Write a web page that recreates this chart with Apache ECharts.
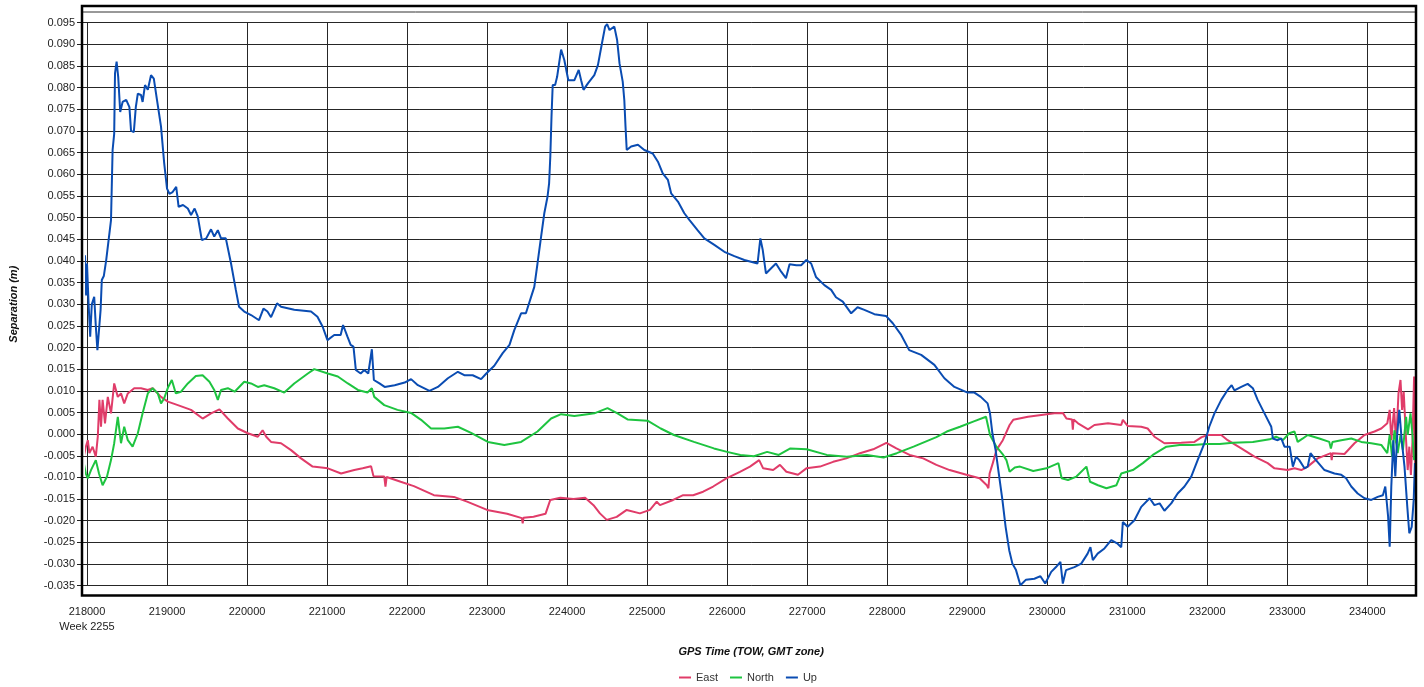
<!DOCTYPE html>
<html>
<head>
<meta charset="utf-8">
<title>GPS Separation</title>
<script src="https://cdn.jsdelivr.net/npm/echarts@6/dist/echarts.min.js"></script>
<style>
  html, body { margin: 0; padding: 0; background: #fff; }
  #chart { width: 1424px; height: 687px; }
</style>
</head>
<body>
<div id="chart"></div>
<script>
// Separation components (metres) against GPS time of week, week 2255.
const weekLabel = 'Week 2255';
const seriesNames = ['East', 'North', 'Up'];
const seriesColors = ['#e03c69', '#1ec440', '#0a4cb2'];

const east = [
  [217960, -0.0052], [217985, -0.0029], [218010, -0.0014], [218030, -0.0044], [218070, -0.0029],
  [218110, -0.0052], [218135, -0.0006], [218155, 0.0079], [218175, 0.0017], [218195, 0.0079],
  [218225, 0.0025], [218260, 0.0086], [218300, 0.0048], [218340, 0.0117], [218360, 0.0121],
  [218385, 0.0086], [218425, 0.0094], [218465, 0.0071], [218510, 0.0094], [218590, 0.0106],
  [218675, 0.0106], [218760, 0.0102], [218820, 0.0106], [218925, 0.0086], [219010, 0.0075],
  [219135, 0.0067], [219300, 0.0056], [219445, 0.0036], [219550, 0.0048], [219655, 0.0057],
  [219760, 0.0036], [219885, 0.0013], [220010, 0.0002], [220135, -0.0006], [220195, 0.0009],
  [220240, -0.0006], [220300, -0.0018], [220425, -0.0021], [220550, -0.0037], [220675, -0.0056],
  [220820, -0.0075], [221010, -0.0079], [221175, -0.0091], [221340, -0.0083], [221445, -0.0079],
  [221550, -0.0074], [221580, -0.0097], [221715, -0.0098], [221730, -0.0121], [221745, -0.0099],
  [221920, -0.0110], [222085, -0.0120], [222335, -0.0141], [222585, -0.0145], [222750, -0.0156],
  [223000, -0.0175], [223250, -0.0184], [223435, -0.0194], [223445, -0.0206], [223455, -0.0193],
  [223580, -0.0191], [223730, -0.0184], [223790, -0.0152], [223915, -0.0147], [224080, -0.0150],
  [224225, -0.0147], [224330, -0.0164], [224410, -0.0183], [224495, -0.0198], [224620, -0.0191],
  [224745, -0.0175], [224910, -0.0183], [225035, -0.0175], [225120, -0.0156], [225160, -0.0164],
  [225325, -0.0152], [225450, -0.0141], [225575, -0.0141], [225700, -0.0133], [225825, -0.0121],
  [225990, -0.0102], [226160, -0.0087], [226285, -0.0075], [226400, -0.0060], [226450, -0.0079],
  [226575, -0.0083], [226660, -0.0071], [226740, -0.0087], [226825, -0.0091], [226885, -0.0094],
  [226990, -0.0079], [227160, -0.0075], [227325, -0.0064], [227490, -0.0056], [227660, -0.0044],
  [227825, -0.0035], [227990, -0.0020], [228115, -0.0033], [228280, -0.0048], [228450, -0.0056],
  [228615, -0.0071], [228780, -0.0083], [228990, -0.0094], [229155, -0.0102], [229245, -0.0118],
  [229265, -0.0125], [229280, -0.0091], [229320, -0.0067], [229365, -0.0037], [229445, -0.0014],
  [229530, 0.0021], [229575, 0.0033], [229760, 0.0040], [229925, 0.0044], [230090, 0.0048],
  [230195, 0.0049], [230240, 0.0036], [230310, 0.0034], [230320, 0.0010], [230330, 0.0034],
  [230385, 0.0025], [230510, 0.0011], [230590, 0.0021], [230760, 0.0025], [230925, 0.0021],
  [230945, 0.0033], [231005, 0.0019], [231175, 0.0017], [231255, 0.0013], [231340, -0.0006],
  [231465, -0.0021], [231675, -0.0020], [231840, -0.0018], [231930, -0.0007], [232010, -0.0002],
  [232175, -0.0002], [232255, -0.0014], [232425, -0.0033], [232590, -0.0052], [232755, -0.0067],
  [232840, -0.0079], [233005, -0.0083], [233090, -0.0079], [233175, -0.0083], [233255, -0.0075],
  [233380, -0.0056], [233545, -0.0044], [233555, -0.0060], [233565, -0.0044], [233715, -0.0046],
  [233840, -0.0021], [233965, -0.0002], [234090, 0.0006], [234175, 0.0013], [234250, 0.0025],
  [234280, 0.0056], [234300, -0.0014], [234335, 0.0060], [234360, -0.0021], [234390, 0.0094],
  [234415, 0.0125], [234435, 0.0056], [234455, 0.0098], [234485, -0.0014], [234505, -0.0083],
  [234525, -0.0029], [234545, -0.0094], [234565, -0.0014], [234585, 0.0133], [234600, -0.0075]
];

const north = [
  [217960, -0.0067], [217985, -0.0091], [218010, -0.0102], [218050, -0.0083], [218110, -0.0060],
  [218150, -0.0091], [218195, -0.0118], [218250, -0.0098], [218300, -0.0060], [218340, -0.0021],
  [218385, 0.0040], [218425, -0.0021], [218465, 0.0017], [218510, -0.0014], [218570, -0.0029],
  [218635, 0.0002], [218695, 0.0048], [218760, 0.0094], [218820, 0.0106], [218885, 0.0094],
  [218925, 0.0071], [218965, 0.0083], [219015, 0.0109], [219060, 0.0125], [219110, 0.0094],
  [219175, 0.0098], [219260, 0.0117], [219360, 0.0134], [219445, 0.0136], [219530, 0.0121],
  [219590, 0.0102], [219635, 0.0079], [219675, 0.0102], [219760, 0.0106], [219845, 0.0098],
  [219965, 0.0121], [220050, 0.0117], [220135, 0.0109], [220215, 0.0113], [220340, 0.0106],
  [220465, 0.0096], [220590, 0.0117], [220760, 0.0140], [220840, 0.0150], [221010, 0.0140],
  [221135, 0.0133], [221260, 0.0117], [221385, 0.0102], [221505, 0.0096], [221560, 0.0106],
  [221590, 0.0086], [221715, 0.0067], [221880, 0.0056], [222050, 0.0049], [222175, 0.0033],
  [222300, 0.0013], [222465, 0.0013], [222635, 0.0017], [222800, 0.0003], [223010, -0.0018],
  [223215, -0.0025], [223425, -0.0018], [223630, 0.0006], [223800, 0.0036], [223925, 0.0046],
  [224090, 0.0042], [224255, 0.0046], [224340, 0.0048], [224505, 0.0060], [224630, 0.0048],
  [224755, 0.0034], [225005, 0.0031], [225170, 0.0013], [225335, -0.0002], [225585, -0.0018],
  [225835, -0.0033], [226000, -0.0041], [226165, -0.0048], [226335, -0.0051], [226500, -0.0041],
  [226645, -0.0048], [226790, -0.0033], [226995, -0.0035], [227245, -0.0048], [227495, -0.0052],
  [227745, -0.0048], [227955, -0.0054], [228120, -0.0044], [228330, -0.0029], [228495, -0.0016],
  [228615, -0.0007], [228745, 0.0006], [228910, 0.0017], [229075, 0.0029], [229235, 0.0040],
  [229250, 0.0044], [229285, -0.0002], [229365, -0.0029], [229450, -0.0048], [229490, -0.0060],
  [229530, -0.0087], [229595, -0.0077], [229660, -0.0075], [229825, -0.0085], [229990, -0.0079],
  [230140, -0.0067], [230180, -0.0102], [230260, -0.0106], [230365, -0.0098], [230490, -0.0075],
  [230535, -0.0110], [230635, -0.0118], [230740, -0.0125], [230865, -0.0118], [230925, -0.0091],
  [231070, -0.0083], [231195, -0.0067], [231320, -0.0048], [231490, -0.0029], [231655, -0.0025],
  [231820, -0.0025], [231990, -0.0023], [232155, -0.0023], [232320, -0.0020], [232570, -0.0018],
  [232780, -0.0012], [232860, -0.0006], [232945, -0.0014], [233025, 0.0002], [233090, 0.0006],
  [233130, -0.0018], [233195, -0.0010], [233255, -0.0002], [233400, -0.0010], [233525, -0.0018],
  [233545, -0.0033], [233565, -0.0018], [233675, -0.0014], [233800, -0.0010], [233925, -0.0018],
  [234050, -0.0021], [234175, -0.0025], [234250, -0.0044], [234280, -0.0002], [234310, -0.0052],
  [234340, 0.0009], [234380, -0.0044], [234415, -0.0002], [234445, -0.0037], [234485, 0.0040],
  [234505, -0.0002], [234540, 0.0048], [234565, -0.0002], [234585, -0.0060]
];

const up = [
  [217960, 0.0294], [217975, 0.0413], [217990, 0.0320], [218000, 0.0394], [218020, 0.0300],
  [218040, 0.0225], [218060, 0.0300], [218090, 0.0317], [218110, 0.0250], [218130, 0.0194],
  [218170, 0.0287], [218185, 0.0356], [218210, 0.0365], [218240, 0.0402], [218300, 0.0494],
  [218320, 0.0656], [218340, 0.0694], [218350, 0.0833], [218370, 0.0860], [218390, 0.0825],
  [218415, 0.0744], [218445, 0.0767], [218490, 0.0772], [218530, 0.0755], [218550, 0.0701],
  [218585, 0.0697], [218610, 0.0755], [218635, 0.0786], [218675, 0.0783], [218695, 0.0767],
  [218725, 0.0806], [218760, 0.0795], [218800, 0.0829], [218835, 0.0821], [218875, 0.0771],
  [218925, 0.0710], [218965, 0.0625], [219000, 0.0567], [219030, 0.0555], [219070, 0.0559],
  [219115, 0.0571], [219145, 0.0525], [219200, 0.0529], [219260, 0.0521], [219300, 0.0506],
  [219345, 0.0521], [219385, 0.0502], [219435, 0.0448], [219490, 0.0452], [219550, 0.0473],
  [219590, 0.0456], [219635, 0.0471], [219675, 0.0452], [219735, 0.0452], [219800, 0.0394],
  [219860, 0.0333], [219900, 0.0294], [219965, 0.0283], [220050, 0.0275], [220150, 0.0263],
  [220205, 0.0290], [220255, 0.0283], [220300, 0.0270], [220375, 0.0302], [220425, 0.0294],
  [220590, 0.0287], [220800, 0.0283], [220880, 0.0271], [220945, 0.0248], [221005, 0.0217],
  [221090, 0.0229], [221170, 0.0229], [221200, 0.0252], [221255, 0.0225], [221295, 0.0206],
  [221330, 0.0202], [221360, 0.0148], [221420, 0.0140], [221465, 0.0148], [221515, 0.0140],
  [221560, 0.0196], [221585, 0.0125], [221655, 0.0117], [221720, 0.0109], [221845, 0.0113],
  [221970, 0.0119], [222050, 0.0127], [222135, 0.0113], [222280, 0.0100], [222385, 0.0109],
  [222510, 0.0129], [222635, 0.0144], [222715, 0.0136], [222820, 0.0136], [222925, 0.0127],
  [222990, 0.0140], [223090, 0.0158], [223195, 0.0187], [223280, 0.0206], [223340, 0.0240],
  [223425, 0.0279], [223485, 0.0279], [223550, 0.0317], [223590, 0.0340], [223630, 0.0394],
  [223675, 0.0456], [223715, 0.0510], [223755, 0.0548], [223775, 0.0579], [223790, 0.0641],
  [223805, 0.0733], [223820, 0.0806], [223850, 0.0806], [223875, 0.0825], [223925, 0.0888],
  [223965, 0.0864], [224015, 0.0817], [224090, 0.0817], [224145, 0.0841], [224175, 0.0817],
  [224205, 0.0795], [224260, 0.0810], [224340, 0.0829], [224385, 0.0852], [224435, 0.0902],
  [224475, 0.0941], [224500, 0.0947], [224530, 0.0933], [224590, 0.0941], [224625, 0.0910],
  [224655, 0.0856], [224695, 0.0814], [224715, 0.0771], [224730, 0.0710], [224745, 0.0656],
  [224800, 0.0664], [224885, 0.0668], [224965, 0.0656], [225070, 0.0648], [225135, 0.0629],
  [225195, 0.0602], [225260, 0.0587], [225300, 0.0556], [225385, 0.0537], [225465, 0.0510],
  [225530, 0.0494], [225630, 0.0471], [225715, 0.0452], [225840, 0.0437], [225965, 0.0421],
  [226090, 0.0411], [226215, 0.0402], [226380, 0.0394], [226415, 0.0452], [226445, 0.0425],
  [226485, 0.0371], [226550, 0.0383], [226610, 0.0394], [226675, 0.0375], [226735, 0.0360],
  [226780, 0.0392], [226865, 0.0390], [226925, 0.0390], [226990, 0.0402], [227050, 0.0394],
  [227110, 0.0363], [227215, 0.0344], [227300, 0.0333], [227360, 0.0316], [227445, 0.0306],
  [227550, 0.0279], [227630, 0.0293], [227715, 0.0287], [227840, 0.0277], [227985, 0.0273],
  [228070, 0.0256], [228175, 0.0229], [228275, 0.0194], [228425, 0.0183], [228590, 0.0160],
  [228715, 0.0129], [228840, 0.0109], [229005, 0.0096], [229090, 0.0096], [229170, 0.0086],
  [229255, 0.0071], [229285, 0.0048], [229315, 0.0002], [229355, -0.0037], [229395, -0.0091],
  [229440, -0.0152], [229480, -0.0214], [229525, -0.0268], [229565, -0.0299], [229610, -0.0314],
  [229665, -0.0349], [229735, -0.0336], [229840, -0.0334], [229915, -0.0328], [229975, -0.0345],
  [230050, -0.0318], [230110, -0.0307], [230165, -0.0295], [230195, -0.0345], [230235, -0.0314],
  [230340, -0.0307], [230425, -0.0299], [230505, -0.0276], [230540, -0.0261], [230570, -0.0291],
  [230630, -0.0276], [230715, -0.0264], [230800, -0.0245], [230880, -0.0253], [230925, -0.0261],
  [230945, -0.0203], [231005, -0.0214], [231090, -0.0199], [231175, -0.0168], [231280, -0.0148],
  [231340, -0.0164], [231405, -0.0160], [231465, -0.0177], [231550, -0.0160], [231630, -0.0137],
  [231715, -0.0121], [231800, -0.0098], [231880, -0.0060], [231965, -0.0021], [232025, 0.0017],
  [232090, 0.0048], [232175, 0.0079], [232255, 0.0102], [232305, 0.0113], [232340, 0.0101],
  [232425, 0.0109], [232505, 0.0116], [232570, 0.0106], [232630, 0.0079], [232715, 0.0048],
  [232800, 0.0017], [232820, -0.0010], [232880, -0.0014], [232925, -0.0010], [232965, -0.0029],
  [233030, -0.0029], [233070, -0.0075], [233110, -0.0052], [233150, -0.0060], [233215, -0.0079],
  [233255, -0.0075], [233290, -0.0044], [233340, -0.0056], [233465, -0.0083], [233590, -0.0091],
  [233675, -0.0094], [233735, -0.0102], [233800, -0.0121], [233880, -0.0137], [233965, -0.0148],
  [234050, -0.0152], [234130, -0.0145], [234195, -0.0141], [234225, -0.0121], [234260, -0.0190],
  [234280, -0.0260], [234300, -0.0121], [234325, -0.0014], [234350, -0.0098], [234375, 0.0002],
  [234400, 0.0056], [234430, -0.0014], [234465, -0.0075], [234500, -0.0168], [234525, -0.0229],
  [234555, -0.0214], [234580, -0.0152], [234595, -0.0067]
];

const chart = echarts.init(document.getElementById('chart'), null, { renderer: 'canvas' });

const labelFont = 'Liberation Sans, Arial, sans-serif';
const gridLine = { show: true, lineStyle: { color: '#262626', width: 1 } };

function lineSeries(name, data, color) {
  return {
    name: name,
    type: 'line',
    data: data,
    showSymbol: false,
    symbol: 'none',
    clip: false,
    sampling: false,
    animation: false,
    lineStyle: { color: color, width: 2 },
    itemStyle: { color: color }
  };
}

chart.setOption({
  backgroundColor: '#ffffff',
  animation: false,
  grid: { left: 86, right: 8.7, top: 22.7, bottom: 101.3, containLabel: false },
  xAxis: {
    type: 'value',
    min: 218000,
    max: 234600,
    interval: 1000,
    name: 'GPS Time (TOW, GMT zone)',
    nameLocation: 'middle',
    nameGap: 61,
    nameTextStyle: { fontFamily: labelFont, fontSize: 11, fontWeight: 'bold', fontStyle: 'italic', color: '#111' },
    axisLine: { show: false },
    axisTick: { show: true, length: 14, lineStyle: { color: '#222', width: 1 } },
    axisLabel: {
      margin: 19,
      fontFamily: labelFont,
      fontSize: 11,
      color: '#222',
      lineHeight: 15,
      showMaxLabel: false,
      formatter: function (v) {
        return v === 218000 ? v + '\n' + weekLabel : String(v);
      }
    },
    splitLine: gridLine
  },
  yAxis: {
    type: 'value',
    min: -0.035,
    max: 0.095,
    interval: 0.005,
    name: 'Separation (m)',
    nameLocation: 'middle',
    nameGap: 68,
    nameRotate: 90,
    nameTextStyle: { fontFamily: labelFont, fontSize: 11, fontWeight: 'bold', fontStyle: 'italic', color: '#111' },
    axisLine: { show: false },
    axisTick: { show: true, length: 10, lineStyle: { color: '#222', width: 1 } },
    axisLabel: {
      margin: 12,
      fontFamily: labelFont,
      fontSize: 11,
      color: '#222',
      formatter: function (v) {
        return Math.abs(v) < 1e-9 ? '0.000' : v.toFixed(3);
      }
    },
    splitLine: gridLine
  },
  legend: {
    data: seriesNames,
    top: 667,
    left: 674,
    icon: 'rect',
    itemWidth: 12,
    itemHeight: 2,
    itemGap: 12,
    textStyle: { fontFamily: labelFont, fontSize: 11, color: '#333' }
  },
  graphic: [
    {
      type: 'line',
      z: 100,
      silent: true,
      shape: { x1: 82, y1: 12, x2: 1416, y2: 12 },
      style: { stroke: '#333', lineWidth: 1 }
    },
    {
      type: 'rect',
      z: 101,
      silent: true,
      shape: { x: 82, y: 6, width: 1334, height: 589.5 },
      style: { fill: null, stroke: '#000', lineWidth: 2.5 }
    }
  ],
  series: [
    lineSeries(seriesNames[0], east, seriesColors[0]),
    lineSeries(seriesNames[1], north, seriesColors[1]),
    lineSeries(seriesNames[2], up, seriesColors[2])
  ]
});
</script>
</body>
</html>
